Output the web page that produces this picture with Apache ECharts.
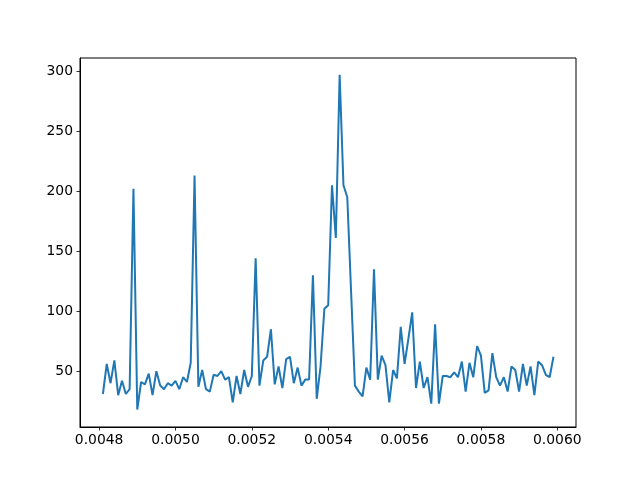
<!DOCTYPE html>
<html>
<head>
<meta charset="utf-8">
<script src="https://cdn.jsdelivr.net/npm/echarts@6/dist/echarts.min.js"></script>
<style>
html,body{margin:0;padding:0;background:#fff;}
#chart{width:640px;height:480px;}
</style>
</head>
<body>
<div id="chart"></div>
<script>
const xValues = [
0.00481,0.00482,0.00483,0.00484,0.00485,0.00486,0.00487,0.00488,0.00489,0.00490,
0.00491,0.00492,0.00493,0.00494,0.00495,0.00496,0.00497,0.00498,0.00499,0.00500,
0.00501,0.00502,0.00503,0.00504,0.00505,0.00506,0.00507,0.00508,0.00509,0.00510,
0.00511,0.00512,0.00513,0.00514,0.00515,0.00516,0.00517,0.00518,0.00519,0.00520,
0.00521,0.00522,0.00523,0.00524,0.00525,0.00526,0.00527,0.00528,0.00529,0.00530,
0.00531,0.00532,0.00533,0.00534,0.00535,0.00536,0.00537,0.00538,0.00539,0.00540,
0.00541,0.00542,0.00543,0.00544,0.00545,0.00546,0.00547,0.00548,0.00549,0.00550,
0.00551,0.00552,0.00553,0.00554,0.00555,0.00556,0.00557,0.00558,0.00559,0.00560,
0.00561,0.00562,0.00563,0.00564,0.00565,0.00566,0.00567,0.00568,0.00569,0.00570,
0.00571,0.00572,0.00573,0.00574,0.00575,0.00576,0.00577,0.00578,0.00579,0.00580,
0.00581,0.00582,0.00583,0.00584,0.00585,0.00586,0.00587,0.00588,0.00589,0.00590,
0.00591,0.00592,0.00593,0.00594,0.00595,0.00596,0.00597,0.00598,0.00599
];
const yValues = [
31,56,40,59,30,42,31,35,202,18,
41,39,48,30,50,38,35,40,38,42,
35,45,41,57,213,37,51,35,33,47,
46,50,43,45,24,46,31,51,37,46,
144,38,59,62,85,39,54,36,60,62,
40,53,38,43,43,130,27,54,102,105,
205,161,297,205,195,116,38,33,29,53,
43,135,43,63,55,24,51,44,87,56,
77,99,36,58,36,45,23,89,23,46,
46,45,49,45,58,33,57,45,71,63,
32,34,65,45,38,45,33,54,51,33,
56,38,54,30,58,55,47,45,62
];
const xTicks = [0.0048,0.0050,0.0052,0.0054,0.0056,0.0058,0.0060];
const yTicks = [50,100,150,200,250,300];

const chart = echarts.init(document.getElementById('chart'), null, {renderer:'canvas'});
const font = {fontFamily:'DejaVu Sans', fontSize:13.9, color:'#000'};
chart.setOption({
  animation:false,
  backgroundColor:'#fff',
  grid:{left:80, top:58, width:496, height:369, show:true, borderColor:'#000', borderWidth:1, backgroundColor:'transparent'},
  xAxis:{
    type:'value', min:0.00475, max:0.006049,
    axisLine:{show:true, onZero:false, lineStyle:{color:'#000', width:1}},
    axisTick:{show:true, length:3.5, lineStyle:{color:'#000', width:0.8}, customValues:xTicks},
    axisLabel:Object.assign({margin:6, customValues:xTicks, formatter:v=>v.toFixed(4), showMinLabel:true, showMaxLabel:true}, font),
    splitLine:{show:false}
  },
  yAxis:{
    type:'value', min:3.5, max:311,
    axisLine:{show:true, onZero:false, lineStyle:{color:'#000', width:1}},
    axisTick:{show:true, length:3.5, lineStyle:{color:'#000', width:0.8}, customValues:yTicks},
    axisLabel:Object.assign({margin:7, customValues:yTicks, formatter:v=>String(v)}, font),
    splitLine:{show:false}
  },
  series:[{
    type:'line',
    data:xValues.map((x,i)=>[x,yValues[i]]),
    showSymbol:false,
    lineStyle:{color:'#1f77b4', width:2},
    itemStyle:{color:'#1f77b4'}
  }]
});
</script>
</body>
</html>
